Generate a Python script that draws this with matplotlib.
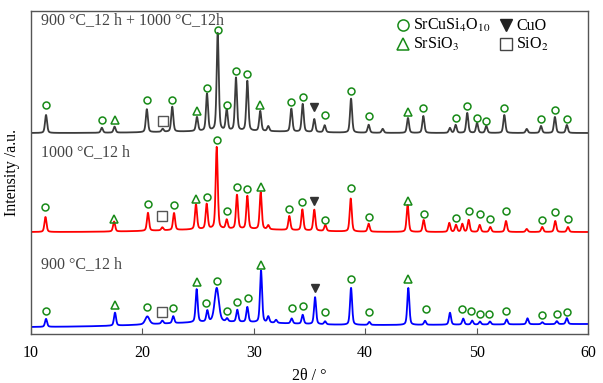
import numpy as np
import matplotlib
matplotlib.use('Agg')
import matplotlib.pyplot as plt
from matplotlib.lines import Line2D

plt.rcParams['font.family'] = ['Liberation Serif', 'DejaVu Serif']
plt.rcParams['mathtext.fontset'] = 'stix'

# ---- peak lists (2theta, height) ----
# y units: pixels above the bottom spine
top_pos = [11.35, 16.36, 17.5, 20.4, 21.82, 22.68, 24.9, 25.8, 26.76, 27.57, 28.4, 29.42,
           30.58, 31.3, 33.37, 34.39, 35.43, 36.36, 38.73, 40.31, 41.57, 43.84, 45.22, 47.6,
           48.12, 49.16, 50.04, 50.87, 52.49, 54.5, 55.78, 57.03, 58.1]
top_h = [18, 5, 6, 23, 3, 25, 14, 37, 98, 21, 53, 50,
         20, 5, 23, 28, 13, 7, 34, 8, 4, 15, 17, 5,
         8, 20, 10, 7, 18, 4, 7, 16, 8]

mid_pos = [11.3, 17.46, 20.5, 21.79, 22.84, 24.81, 25.77, 26.67, 27.57, 28.49, 29.42, 30.62,
           31.3, 33.19, 34.36, 35.43, 36.42, 38.7, 40.31, 43.81, 45.25, 47.55, 48.15, 48.72,
           49.29, 50.28, 51.23, 52.64, 54.5, 55.89, 57.06, 58.2]
mid_h = [15, 10, 18, 3, 17, 25, 25, 82, 9, 34, 33, 37,
         4, 14, 21, 21, 6, 33, 8, 27, 12, 9, 7, 8,
         12, 7, 5, 11, 3, 5, 11, 5]

bot_pos = [11.35, 17.54, 20.44, 21.79, 22.77, 24.87, 25.83, 26.67, 27.6, 28.52, 29.42, 30.65,
           31.3, 32.0, 33.4, 34.39, 35.5, 36.4, 38.73, 40.37, 43.87, 45.37, 47.61, 48.8,
           49.6, 50.3, 51.2, 52.7, 54.57, 55.9, 57.2, 58.1]
bot_h = [8, 13, 8, 3, 7, 33, 11, 34, 3, 12, 15, 52,
         6, 3, 5, 9, 27, 3, 37, 3, 37, 4, 12, 6,
         4, 3, 3, 5, 6, 2, 3, 6]
bot_broad = [20.44, 26.67]

# ---- phase markers (2theta, y) ----
top_circ = [(11.35, 229), (16.36, 214), (20.40, 234), (22.68, 234), (25.8, 246), (26.76, 304),
            (27.57, 229), (28.4, 263), (29.42, 260), (33.37, 232), (34.39, 237), (36.36, 219),
            (38.73, 243), (40.31, 218), (45.22, 226), (48.12, 216), (49.16, 228), (50.04, 216),
            (50.87, 213), (52.49, 226), (55.78, 215), (57.03, 224), (58.1, 215)]
top_tri = [(17.5, 214), (24.9, 223), (30.58, 229), (43.84, 222)]
top_cuo = [(35.43, 227)]
top_sq = [(21.82, 213)]

mid_circ = [(11.3, 127), (20.5, 130), (22.84, 129), (25.77, 137), (26.67, 194), (27.57, 123),
            (28.49, 147), (29.42, 145), (33.19, 125), (34.36, 132), (36.42, 114), (38.7, 146),
            (40.31, 117), (45.25, 120), (48.15, 116), (49.29, 123), (50.28, 120), (51.23, 115),
            (52.64, 123), (55.89, 114), (57.06, 122), (58.2, 115)]
mid_tri = [(17.46, 115), (24.81, 135), (30.62, 147), (43.81, 133)]
mid_cuo = [(35.43, 133)]
mid_sq = [(21.79, 118)]

bot_circ = [(11.35, 23), (20.44, 27), (22.77, 26), (25.71, 31), (26.67, 53), (27.6, 23),
            (28.5, 32), (29.45, 36), (33.4, 26), (34.4, 28), (36.4, 22), (38.73, 55),
            (40.37, 22), (45.45, 25), (48.66, 25), (49.5, 23), (50.33, 20), (51.11, 20),
            (52.64, 23), (55.89, 19), (57.2, 20), (58.1, 22)]
bot_tri = [(17.54, 29), (24.87, 52), (30.65, 69), (43.87, 55)]
bot_cuo = [(35.5, 46)]
bot_sq = [(21.79, 22)]

labels = ['900 \u00b0C_12 h + 1000 \u00b0C_12h', '1000 \u00b0C_12 h', '900 \u00b0C_12 h']
label_y = [314, 182, 70]


def profile(x, pos, h, broad=()):
    y = np.zeros_like(x)
    for p, a in zip(pos, h):
        w = 0.45 if p in broad else 0.22
        g = np.exp(-4 * np.log(2) * (x - p) ** 2 / w ** 2)
        l = 1 / (1 + 4 * (x - p) ** 2 / w ** 2)
        y += a * (0.6 * g + 0.4 * l)
    return y


x = np.linspace(10, 60, 3001)
top = 201 + 2 * np.exp(-(x - 28) ** 2 / 60) + profile(x, top_pos, top_h)
mid = 102 + 3 * np.exp(-(x - 28) ** 2 / 60) + profile(x, mid_pos, mid_h)
bot = 7 + 3 * (x - 10) / 50 + 4 * np.exp(-(x - 27) ** 2 / 60) + profile(x, bot_pos, bot_h, bot_broad)

fig = plt.figure(figsize=(6.03, 3.83), dpi=100)
ax = fig.add_axes([31 / 603, 49 / 383, 557 / 603, 323 / 383])

ax.plot(x, top, color='#3c3c3c', lw=1.3)
ax.plot(x, mid, color='#ff0000', lw=1.3)
ax.plot(x, bot, color='#0000ff', lw=1.3)

green = '#178a17'
for circ, tri, cuo, sq in [(top_circ, top_tri, top_cuo, top_sq),
                           (mid_circ, mid_tri, mid_cuo, mid_sq),
                           (bot_circ, bot_tri, bot_cuo, bot_sq)]:
    ax.plot(*zip(*circ), 'o', ls='none', mfc='none', mec=green, ms=5, mew=1.1)
    ax.plot(*zip(*tri), '^', ls='none', mfc='none', mec=green, ms=5.5, mew=1.1)
    ax.plot(*zip(*cuo), 'v', ls='none', mfc='#333333', mec='#333333', ms=6)
    ax.plot(*zip(*sq), 's', ls='none', mfc='none', mec='#555555', ms=7, mew=1.0)

for t, yy in zip(labels, label_y):
    ax.text(10.9, yy, t, fontsize=11.5, color='#444444', va='center', ha='left')

handles = [Line2D([], [], ls='none', marker='o', mfc='none', mec=green, ms=8, mew=1.1),
           Line2D([], [], ls='none', marker='^', mfc='none', mec=green, ms=8, mew=1.1),
           Line2D([], [], ls='none', marker='v', mfc='#222222', mec='#222222', ms=9),
           Line2D([], [], ls='none', marker='s', mfc='none', mec='#444444', ms=8, mew=1.0)]
names = ['SrCuSi$_4$O$_{10}$', 'SrSiO$_3$', 'CuO', 'SiO$_2$']
ax.legend(handles, names, ncol=2, loc='upper left', bbox_to_anchor=(0.625, 1.025),
          frameon=False, fontsize=11.5, handletextpad=0.05, columnspacing=0.35,
          labelspacing=0.12, handlelength=1.2)

ax.set_xlim(10, 60)
ax.set_ylim(0, 323)
ax.set_xticks([10, 20, 30, 40, 50, 60])
ax.set_yticks([])
ax.tick_params(axis='x', direction='in', length=4, labelsize=11.5, pad=8, color='#555555')
for s in ax.spines.values():
    s.set_color('#555555')
    s.set_linewidth(1.0)
ax.set_xlabel('2\u03b8 / \u00b0', fontsize=11.5, labelpad=5)
ax.set_ylabel('Intensity /a.u.', fontsize=11.5, labelpad=8)

fig.savefig('out.png', dpi=100)
